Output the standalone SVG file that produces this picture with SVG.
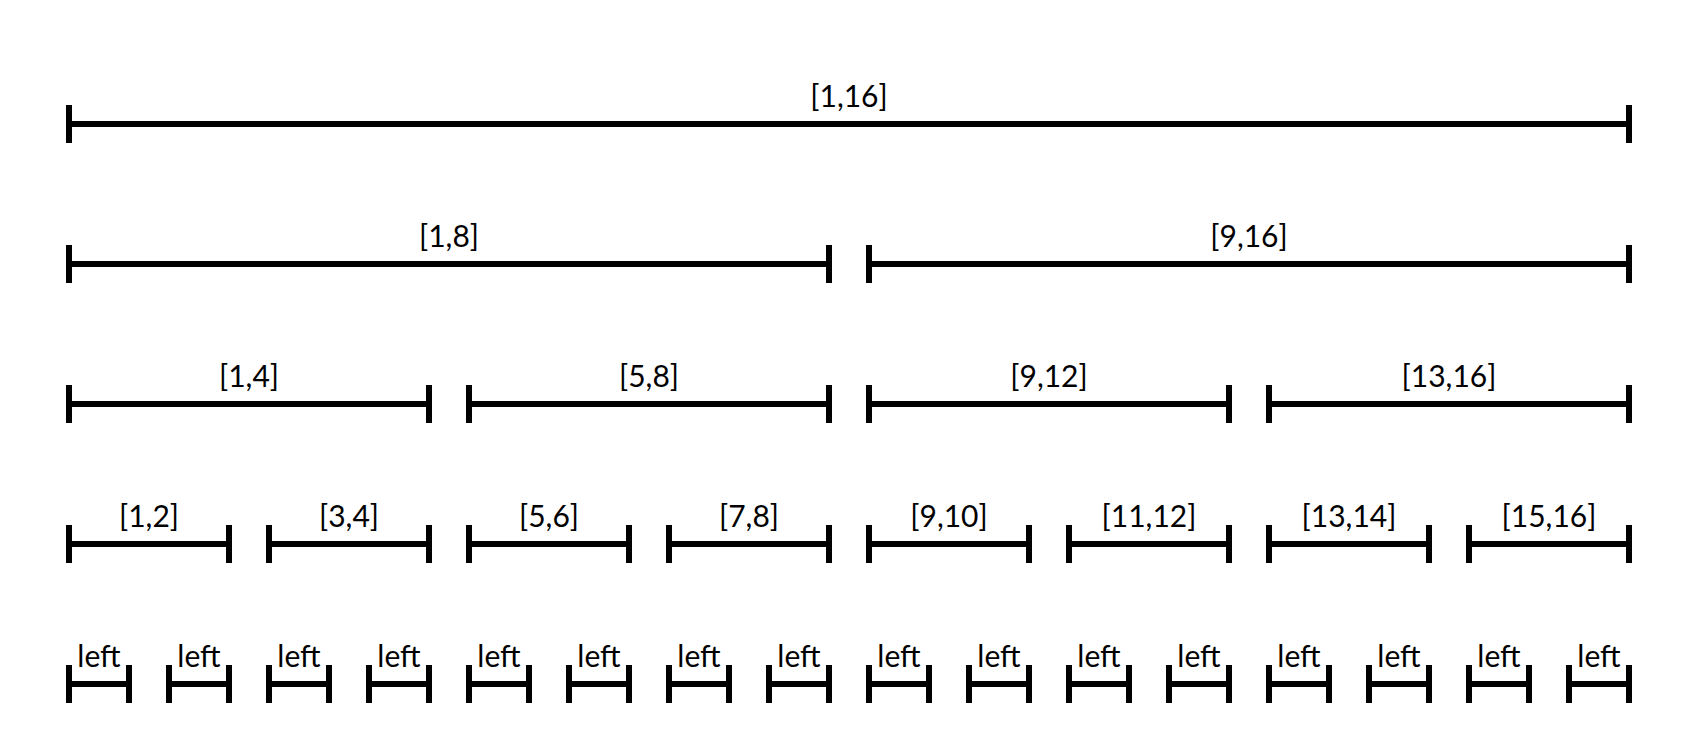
<svg xmlns="http://www.w3.org/2000/svg" width="1690" height="754" viewBox="0 0 1690 754">
<style>
.s{stroke:#000;stroke-width:6;fill:none}
.t{font-family:Lato,"Liberation Sans",sans-serif;font-size:30px;fill:#000;text-anchor:middle}
</style>
<defs>
<marker id="tk" markerUnits="userSpaceOnUse" markerWidth="6" markerHeight="38" refX="3" refY="19" orient="0" viewBox="0 0 6 38"><rect x="0" y="0" width="6" height="38" fill="#000"/></marker>
</defs>
<rect width="1690" height="754" fill="#fff"/>
<g id="connectors">
<g id="r0"><path class="s" d="M69 124H1629" marker-start="url(#tk)" marker-end="url(#tk)"/></g>
<g id="r1">
<path class="s" d="M69 264H829" marker-start="url(#tk)" marker-end="url(#tk)"/>
<path class="s" d="M869 264H1629" marker-start="url(#tk)" marker-end="url(#tk)"/>
</g>
<g id="r2">
<path class="s" d="M69 404H429" marker-start="url(#tk)" marker-end="url(#tk)"/>
<path class="s" d="M469 404H829" marker-start="url(#tk)" marker-end="url(#tk)"/>
<path class="s" d="M869 404H1229" marker-start="url(#tk)" marker-end="url(#tk)"/>
<path class="s" d="M1269 404H1629" marker-start="url(#tk)" marker-end="url(#tk)"/>
</g>
<g id="r3">
<path class="s" d="M69 544H229" marker-start="url(#tk)" marker-end="url(#tk)"/>
<path class="s" d="M269 544H429" marker-start="url(#tk)" marker-end="url(#tk)"/>
<path class="s" d="M469 544H629" marker-start="url(#tk)" marker-end="url(#tk)"/>
<path class="s" d="M669 544H829" marker-start="url(#tk)" marker-end="url(#tk)"/>
<path class="s" d="M869 544H1029" marker-start="url(#tk)" marker-end="url(#tk)"/>
<path class="s" d="M1069 544H1229" marker-start="url(#tk)" marker-end="url(#tk)"/>
<path class="s" d="M1269 544H1429" marker-start="url(#tk)" marker-end="url(#tk)"/>
<path class="s" d="M1469 544H1629" marker-start="url(#tk)" marker-end="url(#tk)"/>
</g>
<g id="r4">
<path class="s" d="M69 684H129" marker-start="url(#tk)" marker-end="url(#tk)"/>
<path class="s" d="M169 684H229" marker-start="url(#tk)" marker-end="url(#tk)"/>
<path class="s" d="M269 684H329" marker-start="url(#tk)" marker-end="url(#tk)"/>
<path class="s" d="M369 684H429" marker-start="url(#tk)" marker-end="url(#tk)"/>
<path class="s" d="M469 684H529" marker-start="url(#tk)" marker-end="url(#tk)"/>
<path class="s" d="M569 684H629" marker-start="url(#tk)" marker-end="url(#tk)"/>
<path class="s" d="M669 684H729" marker-start="url(#tk)" marker-end="url(#tk)"/>
<path class="s" d="M769 684H829" marker-start="url(#tk)" marker-end="url(#tk)"/>
<path class="s" d="M869 684H929" marker-start="url(#tk)" marker-end="url(#tk)"/>
<path class="s" d="M969 684H1029" marker-start="url(#tk)" marker-end="url(#tk)"/>
<path class="s" d="M1069 684H1129" marker-start="url(#tk)" marker-end="url(#tk)"/>
<path class="s" d="M1169 684H1229" marker-start="url(#tk)" marker-end="url(#tk)"/>
<path class="s" d="M1269 684H1329" marker-start="url(#tk)" marker-end="url(#tk)"/>
<path class="s" d="M1369 684H1429" marker-start="url(#tk)" marker-end="url(#tk)"/>
<path class="s" d="M1469 684H1529" marker-start="url(#tk)" marker-end="url(#tk)"/>
<path class="s" d="M1569 684H1629" marker-start="url(#tk)" marker-end="url(#tk)"/>
</g>
</g>
<g id="labels">
<g id="n1-16"><text class="t" x="849" y="107">[1,16]</text></g>
<g id="n1-8"><text class="t" x="449" y="247">[1,8]</text></g>
<g id="n9-16"><text class="t" x="1249" y="247">[9,16]</text></g>
<g id="n1-4"><text class="t" x="249" y="387">[1,4]</text></g>
<g id="n5-8"><text class="t" x="649" y="387">[5,8]</text></g>
<g id="n9-12"><text class="t" x="1049" y="387">[9,12]</text></g>
<g id="n13-16"><text class="t" x="1449" y="387">[13,16]</text></g>
<g id="n1-2"><text class="t" x="149" y="527">[1,2]</text></g>
<g id="n3-4"><text class="t" x="349" y="527">[3,4]</text></g>
<g id="n5-6"><text class="t" x="549" y="527">[5,6]</text></g>
<g id="n7-8"><text class="t" x="749" y="527">[7,8]</text></g>
<g id="n9-10"><text class="t" x="949" y="527">[9,10]</text></g>
<g id="n11-12"><text class="t" x="1149" y="527">[11,12]</text></g>
<g id="n13-14"><text class="t" x="1349" y="527">[13,14]</text></g>
<g id="n15-16"><text class="t" x="1549" y="527">[15,16]</text></g>
<g id="leaves">
<text class="t" x="99" y="667">left</text>
<text class="t" x="199" y="667">left</text>
<text class="t" x="299" y="667">left</text>
<text class="t" x="399" y="667">left</text>
<text class="t" x="499" y="667">left</text>
<text class="t" x="599" y="667">left</text>
<text class="t" x="699" y="667">left</text>
<text class="t" x="799" y="667">left</text>
<text class="t" x="899" y="667">left</text>
<text class="t" x="999" y="667">left</text>
<text class="t" x="1099" y="667">left</text>
<text class="t" x="1199" y="667">left</text>
<text class="t" x="1299" y="667">left</text>
<text class="t" x="1399" y="667">left</text>
<text class="t" x="1499" y="667">left</text>
<text class="t" x="1599" y="667">left</text>
</g>
</g>
</svg>
